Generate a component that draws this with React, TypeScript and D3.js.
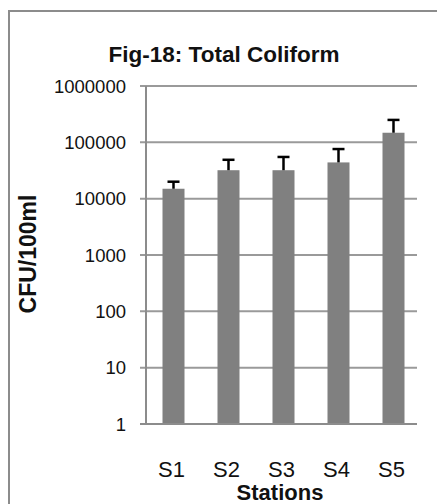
import { useEffect, useRef } from "react";
import * as d3 from "d3";

const stations = ["S1", "S2", "S3", "S4", "S5"];
const meanCfu = [15000, 32000, 32000, 44000, 148000];
const upperCfu = [20000, 49000, 55000, 76000, 250000];
const yTicks = [1, 10, 100, 1000, 10000, 100000, 1000000];

export default function App() {
  const svgRef = useRef<SVGSVGElement>(null);

  useEffect(() => {
    if (!svgRef.current) return;
    const svg = d3.select(svgRef.current);
    svg.selectAll("*").remove();

    const font = "'Liberation Sans', Arial, sans-serif";
    const left = 146, right = 417, top = 86, bottom = 424;

    // outer frame, only top and left visible (image is cropped)
    svg.append("path")
      .attr("d", "M9,504 V11 H437")
      .attr("fill", "none")
      .attr("stroke", "#8c8c8c")
      .attr("stroke-width", 2);

    const x = d3.scaleBand<string>()
      .domain(stations)
      .range([left, 421])
      .paddingInner(0.6)
      .paddingOuter(0.3);

    const y = d3.scaleLog()
      .domain([1, 1000000])
      .range([bottom, top]);

    // gridlines + ticks
    const grid = svg.append("g");
    grid.selectAll("line")
      .data(yTicks)
      .enter()
      .append("line")
      .attr("x1", left - 6).attr("x2", right)
      .attr("y1", d => y(d)).attr("y2", d => y(d))
      .attr("stroke", "#9a9a9a")
      .attr("stroke-width", 2);

    grid.selectAll("text")
      .data(yTicks)
      .enter()
      .append("text")
      .attr("x", 126)
      .attr("y", d => y(d))
      .attr("dy", "0.36em")
      .attr("text-anchor", "end")
      .attr("font-family", font)
      .attr("font-size", 18.5)
      .attr("fill", "#111")
      .text(d => String(d));

    // y axis line
    svg.append("line")
      .attr("x1", left).attr("x2", left)
      .attr("y1", top).attr("y2", bottom)
      .attr("stroke", "#8c8c8c")
      .attr("stroke-width", 2);

    // bars
    svg.append("g").selectAll("rect")
      .data(meanCfu)
      .enter()
      .append("rect")
      .attr("x", (_, i) => x(stations[i])!)
      .attr("y", d => y(d))
      .attr("width", x.bandwidth())
      .attr("height", d => bottom - y(d))
      .attr("fill", "#808080");

    // upper error bars
    const err = svg.append("g").attr("stroke", "#000").attr("stroke-width", 2.5);
    upperCfu.forEach((u, i) => {
      const cx = x(stations[i])! + x.bandwidth() / 2;
      err.append("line")
        .attr("x1", cx).attr("x2", cx)
        .attr("y1", y(meanCfu[i])).attr("y2", y(u));
      err.append("line")
        .attr("x1", cx - 6).attr("x2", cx + 6)
        .attr("y1", y(u)).attr("y2", y(u));
    });

    // bottom axis line
    svg.append("line")
      .attr("x1", left - 6).attr("x2", right)
      .attr("y1", bottom).attr("y2", bottom)
      .attr("stroke", "#8c8c8c")
      .attr("stroke-width", 2);

    // category labels
    svg.append("g").selectAll("text")
      .data(stations)
      .enter()
      .append("text")
      .attr("x", d => x(d)! + x.bandwidth() / 2 - 2)
      .attr("y", 477)
      .attr("text-anchor", "middle")
      .attr("font-family", font)
      .attr("font-size", 22)
      .attr("fill", "#111")
      .text(d => d);

    svg.append("text")
      .attr("x", 280).attr("y", 500)
      .attr("text-anchor", "middle")
      .attr("font-family", font)
      .attr("font-weight", "bold")
      .attr("font-size", 22)
      .attr("fill", "#111")
      .text("Stations");

    svg.append("text")
      .attr("transform", "translate(36,254) rotate(-90)")
      .attr("text-anchor", "middle")
      .attr("font-family", font)
      .attr("font-weight", "bold")
      .attr("font-size", 23)
      .attr("fill", "#111")
      .text("CFU/100ml");

    svg.append("text")
      .attr("x", 224).attr("y", 62)
      .attr("text-anchor", "middle")
      .attr("font-family", font)
      .attr("font-weight", "bold")
      .attr("font-size", 22.5)
      .attr("fill", "#111")
      .text("Fig-18: Total Coliform");
  }, []);

  return (
    <svg
      ref={svgRef}
      width={437}
      height={504}
      style={{ position: "absolute", left: 0, top: 0, background: "#fff" }}
    />
  );
}
